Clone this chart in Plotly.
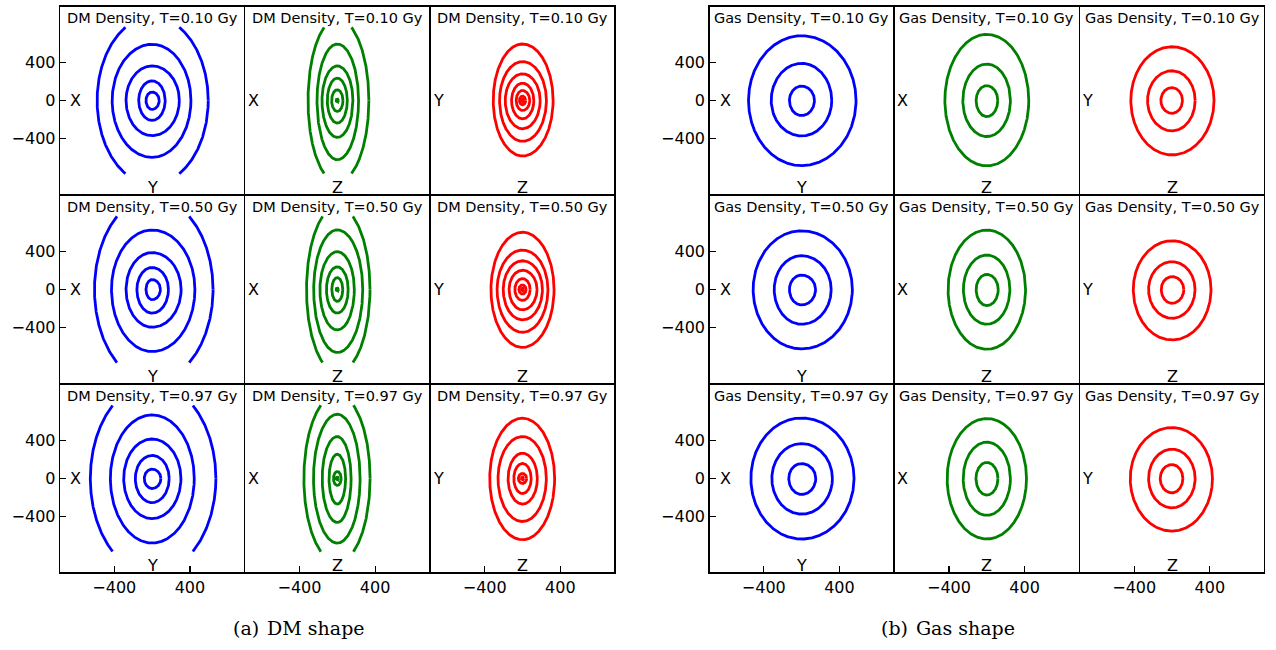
import numpy as np
import plotly.graph_objects as go

# ---------------- data (kpc) ----------------
times = ["0.10", "0.50", "0.97"]
dm_axes = [("Y", "X"), ("Z", "X"), ("Z", "Y")]      # (horizontal, vertical) per column
gas_axes = [("Y", "X"), ("Z", "X"), ("Z", "Y")]
tick_vals_y = [-400, 0, 400]
tick_text_y = ["\u2212400", "0", "400"]
tick_vals_x = [-400, 400]
tick_text_x = ["\u2212400", "400"]
map_half_extent = 775   # vertical half-size of the density maps

# each contour: [left, right, bottom, top] extent
dm_t010_yx = [[-65, 75, -95, 90], [-142, 139, -211, 208], [-276, 288, -373, 366],
              [-423, 411, -602, 595], [-582, 594, -885, 885]]
dm_t010_zx = [[-12, 12, -14, 14], [-60, 60, -116, 113], [-106, 106, -239, 236],
              [-162, 165, -391, 366], [-215, 225, -627, 598], [-310, 334, -866, 866]]
dm_t010_zy = [[-12, 12, -14, 14], [-33, 33, -46, 46], [-67, 77, -106, 106],
              [-116, 120, -194, 183], [-183, 187, -299, 282], [-243, 253, -433, 412],
              [-310, 324, -588, 598]]
dm_t050_yx = [[-65, 88, -108, 105], [-161, 173, -251, 233], [-276, 307, -400, 391],
              [-430, 453, -657, 630], [-610, 645, -975, 975]]
dm_t050_zx = [[-12, 12, -14, 14], [-58, 58, -126, 126], [-115, 115, -250, 240],
              [-184, 180, -428, 400], [-250, 269, -667, 631], [-326, 346, -880, 880]]
dm_t050_zy = [[-12, 12, -14, 14], [-38, 38, -48, 48], [-81, 81, -116, 116],
              [-142, 154, -215, 204], [-204, 211, -322, 304], [-269, 269, -453, 418],
              [-334, 334, -613, 606]]
dm_t097_yx = [[-83, 93, -106, 99], [-178, 181, -255, 244], [-301, 305, -425, 418],
              [-442, 446, -683, 673], [-654, 675, -1005, 1005]]
dm_t097_zx = [[-12, 12, -14, 14], [-41, 41, -74, 74], [-88, 88, -271, 257],
              [-160, 146, -465, 444], [-252, 241, -684, 680], [-354, 347, -890, 890]]
dm_t097_zy = [[-12, 12, -14, 14], [-44, 44, -53, 53], [-92, 92, -159, 159],
              [-153, 157, -271, 268], [-259, 252, -455, 444], [-347, 340, -648, 638]]

gas_t010_yx = [[-129, 136, -160, 153], [-322, 319, -375, 393], [-562, 576, -689, 685]]
gas_t010_zx = [[-113, 116, -171, 157], [-254, 250, -382, 386], [-444, 444, -692, 700]]
gas_t010_zy = [[-118, 111, -136, 136], [-259, 245, -322, 315], [-436, 445, -576, 569]]
gas_t050_yx = [[-129, 148, -164, 153], [-290, 313, -368, 358], [-513, 537, -629, 622]]
gas_t050_zx = [[-113, 121, -171, 160], [-248, 244, -368, 365], [-410, 410, -633, 629]]
gas_t050_zy = [[-114, 125, -146, 136], [-248, 244, -305, 294], [-410, 413, -534, 516]]
gas_t097_yx = [[-136, 150, -169, 159], [-315, 326, -377, 370], [-537, 555, -641, 641]]
gas_t097_zx = [[-115, 118, -175, 170], [-250, 250, -390, 385], [-420, 420, -640, 635]]
gas_t097_zy = [[-125, 115, -152, 148], [-248, 245, -310, 310], [-442, 428, -557, 539]]

dm_panels = [[dm_t010_yx, dm_t010_zx, dm_t010_zy],
             [dm_t050_yx, dm_t050_zx, dm_t050_zy],
             [dm_t097_yx, dm_t097_zx, dm_t097_zy]]
gas_panels = [[gas_t010_yx, gas_t010_zx, gas_t010_zy],
              [gas_t050_yx, gas_t050_zx, gas_t050_zy],
              [gas_t097_yx, gas_t097_zx, gas_t097_zy]]

# ---------------- layout / style ----------------
W, H = 1276, 650
colors = ["#0000ff", "#008000", "#ff0000"]
group_left = [59.5, 709.0]
panel_w = 185.2
row_top = [6.0, 195.0, 384.0]
panel_h = 189.0
LW = 1.5
px_per_unit = 0.0945
yhalf = (panel_h - LW) / 2 / px_per_unit
xhalf = (panel_w - LW) / 2 / px_per_unit
FONT = "DejaVu Sans"

fig = go.Figure()
layout_axes = {}
annotations = []


def px2x(px):
    return px / W


def px2y(py):
    return 1 - py / H


def contour_xy(ext):
    l, r, b, t = ext
    th = np.linspace(0, 2 * np.pi, 1441)
    c, s = np.cos(th), np.sin(th)
    x = np.where(c >= 0, r, -l) * c
    y = np.where(s >= 0, t, -b) * s
    y = np.where(np.abs(y) > map_half_extent, np.nan, y)
    x = np.where(np.isnan(y), np.nan, x)
    return x, y


idx = 0
for g, (panels, axes_names, label) in enumerate(
        [(dm_panels, dm_axes, "DM"), (gas_panels, gas_axes, "Gas")]):
    for r in range(3):
        for c in range(3):
            idx += 1
            x0 = group_left[g] + c * panel_w
            y0 = row_top[r]
            xa = "x" if idx == 1 else f"x{idx}"
            ya = "y" if idx == 1 else f"y{idx}"
            for ext in panels[r][c]:
                x, y = contour_xy(ext)
                fig.add_trace(go.Scatter(x=x, y=y, mode="lines", xaxis=xa, yaxis=ya,
                                         line=dict(color=colors[c], width=2.8),
                                         showlegend=False, hoverinfo="skip",
                                         connectgaps=False))
            xkey = "xaxis" if idx == 1 else f"xaxis{idx}"
            ykey = "yaxis" if idx == 1 else f"yaxis{idx}"
            common = dict(showgrid=False, zeroline=False, showline=True, mirror=True,
                          linecolor="black", linewidth=LW,
                          tickfont=dict(family=FONT, size=16, color="black"))
            bottom = (r == 2)
            left = (c == 0)
            layout_axes[xkey] = dict(
                common, domain=[px2x(x0 + LW / 2), px2x(x0 + panel_w - LW / 2)],
                range=[-xhalf, xhalf], anchor=ya, fixedrange=True,
                tickmode="array", tickvals=tick_vals_x if bottom else [],
                ticktext=tick_text_x if bottom else [],
                ticks="inside" if bottom else "", ticklen=6, tickwidth=1.2, tickcolor="black",
                showticklabels=bottom)
            layout_axes[ykey] = dict(
                common, domain=[px2y(y0 + panel_h - LW / 2), px2y(y0 + LW / 2)],
                range=[-yhalf, yhalf], anchor=xa, fixedrange=True,
                tickmode="array", tickvals=tick_vals_y if left else [],
                ticktext=tick_text_y if left else [],
                ticks="inside" if left else "", ticklen=6, tickwidth=1.2, tickcolor="black",
                showticklabels=left)
            # panel title
            annotations.append(dict(
                x=px2x(x0 + panel_w / 2), y=px2y(y0 + 11.5), xref="paper", yref="paper",
                text=f"{label} Density, T={times[r]} Gy", showarrow=False,
                xanchor="center", yanchor="middle",
                font=dict(family=FONT, size=14.5, color="black")))
            hname, vname = axes_names[c]
            annotations.append(dict(
                x=px2x(x0 + (16 if c == 0 else 8.5)), y=px2y(y0 + panel_h / 2),
                xref="paper", yref="paper", text=vname, showarrow=False,
                xanchor="center", yanchor="middle",
                font=dict(family=FONT, size=16, color="black")))
            annotations.append(dict(
                x=px2x(x0 + panel_w / 2), y=px2y(y0 + panel_h - 8),
                xref="paper", yref="paper", text=hname, showarrow=False,
                xanchor="center", yanchor="middle",
                font=dict(family=FONT, size=16, color="black")))

for cx, txt in [(298.5, "(a) \u200aDM shape"), (948, "(b) \u200aGas shape")]:
    annotations.append(dict(
        x=px2x(cx), y=px2y(628), xref="paper", yref="paper", text=txt, showarrow=False,
        xanchor="center", yanchor="middle",
        font=dict(family="DejaVu Serif", size=19, color="black")))

fig.update_layout(width=W, height=H, autosize=False,
                  margin=dict(l=0, r=0, t=0, b=0),
                  paper_bgcolor="white", plot_bgcolor="white",
                  annotations=annotations, **layout_axes)
fig.write_html("out.html", config={"displayModeBar": False, "staticPlot": True},
               post_script="document.body.style.margin='0px';"
                           "document.body.style.overflow='hidden';")
